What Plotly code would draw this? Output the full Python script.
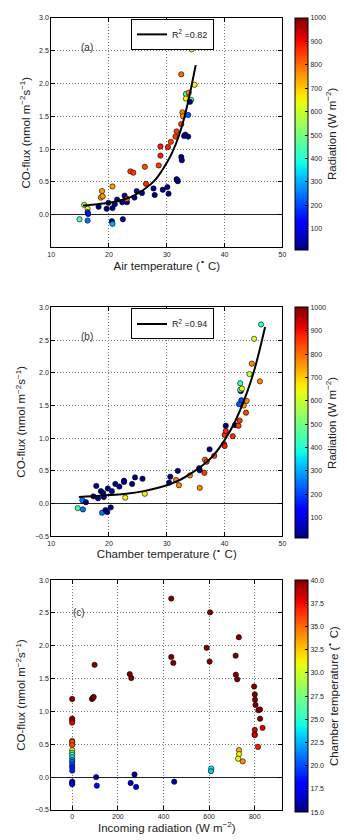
import numpy as np
import plotly.graph_objects as go

# ---------------- data ----------------
# Panel (a): air temperature vs CO-flux, coloured by radiation
air_temp = [14.9, 15.7, 16.3, 16.3, 16.4, 16.3, 18.2, 18.6, 18.8, 18.9, 19.6, 19.9, 20.6, 20.6,
            20.5, 20.6, 21.0, 21.4, 22.3, 22.4, 22.7, 23.1, 23.1, 23.7, 24.2, 24.4, 24.8, 25.7,
            26.2, 26.4, 27.7, 27.9, 28.6, 28.9, 28.9, 29.3, 30.1, 30.3, 30.2, 30.7, 31.5, 31.7,
            31.7, 31.9, 31.8, 32.5, 32.5, 32.6, 32.5, 32.7, 32.8, 33.0, 33.2, 33.3, 33.3, 33.7,
            33.8, 33.7, 34.3, 34.2, 34.0, 34.8]
flux_a = [-0.07, 0.15, 0.09, 0.04, 0.01, -0.09, 0.12, 0.26, 0.36, 0.28, 0.09, 0.18, 0.43, 0.10,
          -0.10, -0.14, 0.16, 0.23, 0.19, -0.07, 0.29, 0.19, 0.24, 0.66, 0.64, 0.26, 0.36, 0.33,
          0.73, 0.47, 0.40, 0.30, 0.75, 1.04, 0.90, 0.38, 0.42, 0.32, 1.03, 1.11, 1.19, 1.27,
          0.54, 0.51, 0.53, 2.14, 0.88, 0.83, 1.38, 1.56, 1.50, 1.20, 1.22, 1.84, 1.77, 1.52,
          1.86, 1.19, 2.52, 1.75, 1.72, 1.98]
rad_a = [450, 560, 650, 200, 150, 250, 15, 750, 750, 750, 15, 15, 750, 15,
         15, 300, 15, 15, 15, 15, 15, 15, 800, 850, 850, 15, 15, 15,
         830, 870, 15, 15, 850, 880, 880, 15, 15, 15, 880, 850, 850, 850,
         15, 15, 15, 800, 15, 15, 850, 780, 750, 15, 15, 450, 650, 220,
         780, 15, 620, 480, 15, 650]
fit_a_x = [15.5, 18, 20, 22, 24, 26, 28, 30, 31, 32, 33, 34, 35]
fit_a_y = [0.14, 0.16, 0.18, 0.22, 0.28, 0.38, 0.53, 0.79, 0.96, 1.18, 1.47, 1.85, 2.28]

# Panel (b): chamber temperature vs CO-flux, coloured by radiation
chamber_temp = [14.6, 15.4, 15.5, 16.0, 17.3, 17.8, 18.1, 18.6, 18.8, 19.0, 19.1, 19.4, 19.7, 19.8,
                20.3, 20.5, 21.1, 21.8, 22.6, 22.6, 22.8, 24.0, 24.5, 25.8, 26.2, 30.4, 30.6, 31.6,
                31.9, 32.1, 34.0, 35.6, 35.7, 35.7, 36.5, 36.6, 36.9, 37.4, 38.2, 40.0, 40.2, 40.2,
                39.9, 40.0, 41.4, 41.8, 42.4, 42.6, 43.7, 43.3, 43.8, 42.5, 42.9, 42.8, 42.7, 43.0,
                42.7, 46.1, 44.3, 44.7, 45.1, 46.3]
flux_b = [-0.07, 0.05, -0.09, 0.02, 0.11, 0.27, 0.08, 0.19, -0.14, 0.16, 0.10, -0.10, -0.13, 0.23,
          -0.06, 0.19, 0.30, 0.26, 0.35, 0.33, 0.09, 0.30, 0.40, 0.38, 0.15, 0.32, 0.41, 0.36,
          0.50, 0.28, 0.43, 0.54, 0.51, 0.24, 0.47, 0.67, 0.64, 0.83, 0.73, 1.05, 1.11, 1.19,
          0.91, 0.88, 1.03, 1.20, 1.19, 1.27, 1.39, 1.50, 1.57, 1.52, 1.58, 1.72, 1.74, 1.76,
          1.84, 1.87, 1.98, 2.14, 2.52, 2.74]
rad_b = [450, 250, 250, 15, 15, 15, 15, 15, 250, 15, 15, 15, 15, 15,
         15, 15, 15, 15, 15, 15, 650, 15, 15, 15, 650, 15, 15, 770,
         15, 770, 770, 15, 15, 770, 850, 800, 830, 15, 830, 870, 870, 15,
         880, 880, 870, 15, 850, 850, 850, 750, 770, 220, 200, 15, 450, 620,
         420, 770, 600, 770, 620, 420]
fit_b_x = [14.8, 17, 20, 23, 26, 28, 30, 32, 34, 36, 38, 40, 42, 44, 45, 46, 47]
fit_b_y = [0.10, 0.11, 0.13, 0.15, 0.19, 0.23, 0.28, 0.35, 0.45, 0.57, 0.73, 0.97, 1.29, 1.73, 2.0, 2.33, 2.70]

# Panel (c): incoming radiation vs CO-flux, coloured by chamber temperature
radiation_c = [0, 0, 0, 0, 0, 0, 0, 0, 0, 0, 0, 0, 0, 0, 0, 0, 0, 0, 0,
               87, 91, 94, 98, 105, 108, 252, 259, 256, 273, 280,
               434, 434, 443, 447, 589, 604, 602, 609, 608,
               716, 717, 723, 730, 731, 731, 727, 747,
               797, 800, 801, 803, 816, 823, 823, 834, 800, 799, 800, 814]
flux_c = [1.19, 0.89, 0.86, 0.83, 0.55, 0.53, 0.49, 0.41, 0.37, 0.34, 0.30, 0.26, 0.23, 0.19, 0.15, 0.10, -0.07, -0.09, -0.11,
          1.19, 1.21, 1.22, 1.71, 0.00, -0.13, 1.57, 1.51, -0.09, 0.04, -0.15,
          2.72, 1.83, 1.74, -0.07, 1.97, 2.51, 1.76, 0.13, 0.09,
          1.85, 1.56, 1.49, 2.13, 0.41, 0.35, 0.28, 0.24,
          1.38, 1.26, 1.18, 1.10, 1.02, 1.03, 0.89, 0.75, 0.72, 0.65, 0.64, 0.46]
temp_c = [40, 39, 39, 38, 36, 35, 36, 30, 28, 25, 24, 22, 21, 20, 19, 19, 18, 17, 17,
          40, 40, 40, 40, 16, 18, 40, 40, 17, 16, 17,
          40, 40, 40, 16, 40, 40, 40, 24, 23,
          40, 40, 40, 40, 33, 31, 31, 34,
          40, 40, 40, 40, 40, 40, 40, 38, 38, 38, 38, 37]

r2_labels = ["R<sup>2</sup> =0.82", "R<sup>2</sup> =0.94"]

# ---------------- style helpers ----------------
# matplotlib "jet" colormap
_t = np.linspace(0, 1, 33)
_r = np.interp(_t, [0, 0.35, 0.66, 0.89, 1], [0, 0, 1, 1, 0.5])
_g = np.interp(_t, [0, 0.125, 0.375, 0.64, 0.91, 1], [0, 0, 1, 1, 0, 0])
_b = np.interp(_t, [0, 0.11, 0.34, 0.65, 1], [0.5, 1, 1, 0, 0])
jet = [[float(t), f"rgb({int(r*255)},{int(g*255)},{int(b*255)})"] for t, r, g, b in zip(_t, _r, _g, _b)]

W, H = 347, 840
FONT = "Liberation Sans, Arial, sans-serif"

def px_x(p):
    return p / W

def px_y(p):
    return 1 - p / H

panels = [
    dict(top=14, bottom=245.5),
    dict(top=306, bottom=536.7),
    dict(top=581, bottom=812.7),
]
x_left, x_right = 48.3, 285

fig = go.Figure()

marker_line = dict(color="black", width=0.6)

# panel a
fig.add_trace(go.Scatter(x=air_temp, y=flux_a, mode="markers", xaxis="x", yaxis="y",
                         showlegend=False,
                         marker=dict(size=5.3, color=rad_a, coloraxis="coloraxis", line=marker_line)))
fig.add_trace(go.Scatter(x=fit_a_x, y=fit_a_y, mode="lines", xaxis="x", yaxis="y",
                         name=r2_labels[0], legend="legend",
                         line=dict(color="black", width=2, shape="spline")))
# panel b
fig.add_trace(go.Scatter(x=chamber_temp, y=flux_b, mode="markers", xaxis="x2", yaxis="y2",
                         showlegend=False,
                         marker=dict(size=5.3, color=rad_b, coloraxis="coloraxis2", line=marker_line)))
fig.add_trace(go.Scatter(x=fit_b_x, y=fit_b_y, mode="lines", xaxis="x2", yaxis="y2",
                         name=r2_labels[1], legend="legend2",
                         line=dict(color="black", width=2, shape="spline")))
# panel c
fig.add_trace(go.Scatter(x=radiation_c, y=flux_c, mode="markers", xaxis="x3", yaxis="y3",
                         showlegend=False,
                         marker=dict(size=5.3, color=temp_c, coloraxis="coloraxis3", line=marker_line)))

tickfont = dict(family=FONT, size=7, color="#222")
titlefont = dict(family=FONT, size=11.5, color="#222")

GRID = dict(showgrid=True, gridcolor="#777", griddash="1px,2px", gridwidth=0.8)

def xaxis(dom_anchor, rng, tickvals, title):
    return dict(domain=[px_x(x_left), px_x(x_right)], anchor=dom_anchor, range=rng,
                tickvals=tickvals, ticks="inside", ticklen=4, tickcolor="black",
                showline=True, linecolor="black", linewidth=1, mirror="ticks",
                zeroline=False, tickfont=tickfont, **GRID,
                title=dict(text=title, font=titlefont, standoff=4))

def yaxis(dom_anchor, p, tickvals, title):
    return dict(domain=[px_y(p["bottom"]), px_y(p["top"])], anchor=dom_anchor, range=[-0.5, 3.0],
                tickvals=tickvals, tickformat=".1f", ticks="inside", ticklen=4, tickcolor="black",
                showline=True, linecolor="black", linewidth=1, mirror="ticks",
                zeroline=True, zerolinecolor="#222", zerolinewidth=1.2, tickfont=tickfont, **GRID,
                title=dict(text=title, font=titlefont, standoff=6))

ytitle = "CO-flux (nmol m<sup>−2</sup>s<sup>−1</sup>)"
yt_a = [0, 0.5, 1.0, 1.5, 2.0, 2.5, 3.0]
yt_bc = [-0.5, 0, 0.5, 1.0, 1.5, 2.0, 2.5, 3.0]

def cbar(p, title, tickvals, ticktext=None):
    d = dict(x=px_x(298.3), xanchor="left", xpad=0, ypad=0,
             y=px_y(p["top"]), yanchor="top", lenmode="pixels", len=p["bottom"] - p["top"],
             thickness=13.4, outlinecolor="black", outlinewidth=1,
             ticks="inside", ticklen=3, tickcolor="black", tickvals=tickvals,
             tickfont=dict(family=FONT, size=7, color="#222"),
             title=dict(text=title, side="right", font=titlefont))
    if ticktext:
        d["ticktext"] = ticktext
    return d

rad_ticks = list(range(100, 1001, 100))
temp_ticks = [15.0, 17.5, 20.0, 22.5, 25.0, 27.5, 30.0, 32.5, 35.0, 37.5, 40.0]

legend_style = dict(bgcolor="white", bordercolor="black", borderwidth=1,
                    font=dict(family=FONT, size=9, color="#222"),
                    xanchor="left", yanchor="top", itemwidth=30,
                    tracegroupgap=0)

fig.update_layout(
    width=W, height=H,
    margin=dict(l=0, r=0, t=0, b=0),
    paper_bgcolor="white", plot_bgcolor="white",
    font=dict(family=FONT),
    xaxis=xaxis("y", [10, 50], [10, 20, 30, 40, 50], "Air temperature (<sup>∘</sup> C)"),
    yaxis=yaxis("x", panels[0], yt_a, ytitle),
    xaxis2=xaxis("y2", [10, 50], [10, 20, 30, 40, 50], "Chamber temperature (<sup>∘</sup> C)"),
    yaxis2=yaxis("x2", panels[1], yt_bc, ytitle),
    xaxis3=xaxis("y3", [-92, 921], [0, 200, 400, 600, 800], "Incoming radiation (W m<sup>−2</sup>)"),
    yaxis3=yaxis("x3", panels[2], yt_bc, ytitle),
    coloraxis=dict(colorscale=jet, cmin=10, cmax=1000,
                   colorbar=cbar(panels[0], "Radiation (W m<sup>−2</sup>)", rad_ticks)),
    coloraxis2=dict(colorscale=jet, cmin=10, cmax=1000,
                    colorbar=cbar(panels[1], "Radiation (W m<sup>−2</sup>)", rad_ticks)),
    coloraxis3=dict(colorscale=jet, cmin=15, cmax=40,
                    colorbar=cbar(panels[2], "Chamber temperature (<sup>∘</sup> C)", temp_ticks,
                                  [f"{v:.1f}" for v in temp_ticks])),
    legend=dict(x=px_x(130), y=px_y(15), **legend_style),
    legend2=dict(x=px_x(130), y=px_y(307), **legend_style),
    annotations=[
        dict(text="(a)", x=16.2, y=2.55, xref="x", yref="y", showarrow=False,
             font=dict(family=FONT, size=10, color="#333")),
        dict(text="(b)", x=16.2, y=2.55, xref="x2", yref="y2", showarrow=False,
             font=dict(family=FONT, size=10, color="#333")),
        dict(text="(c)", x=31, y=2.51, xref="x3", yref="y3", showarrow=False,
             font=dict(family=FONT, size=10, color="#333")),
    ],
)

fig.write_html("out.html")
